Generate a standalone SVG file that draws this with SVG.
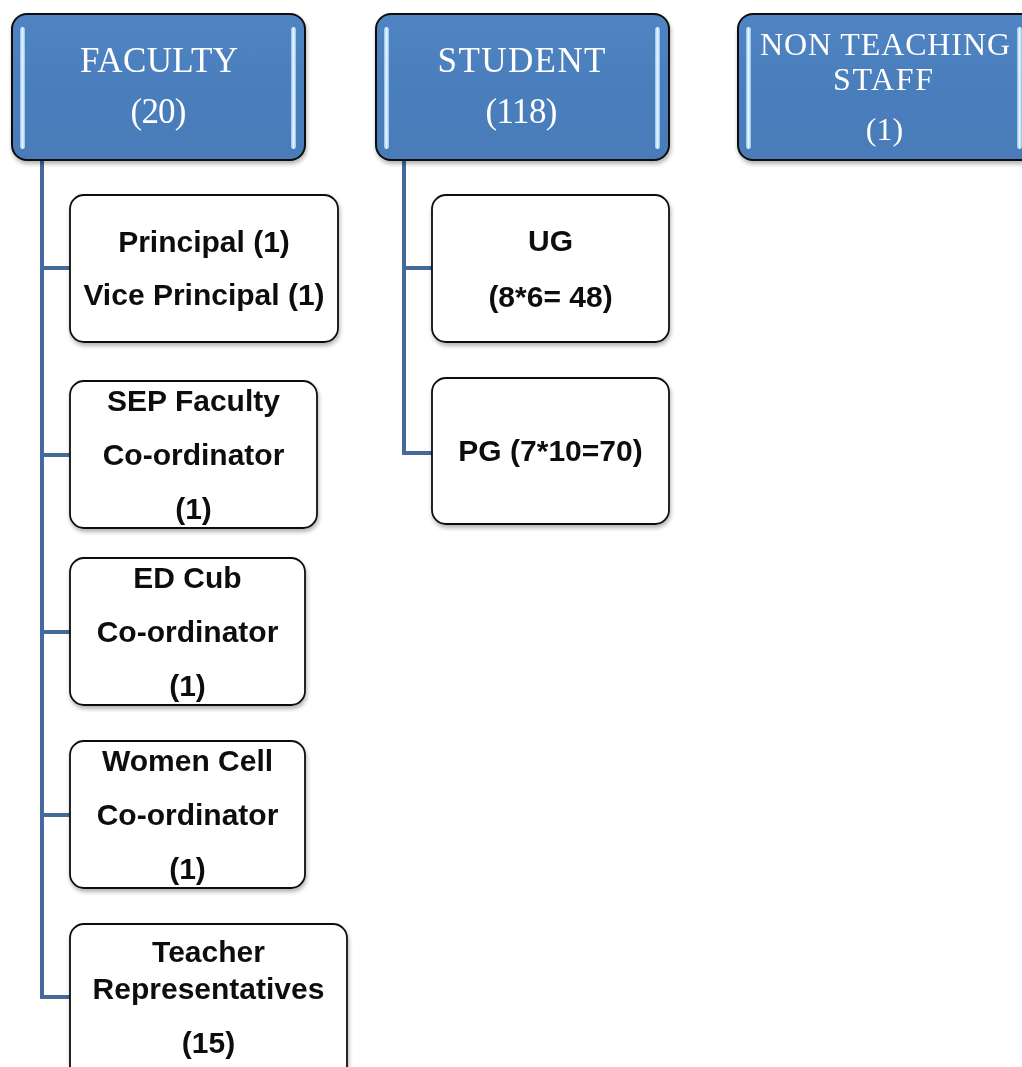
<svg xmlns="http://www.w3.org/2000/svg" width="1022" height="1067" viewBox="0 0 1022 1067">
<defs>
  <linearGradient id="blueFill" x1="0" y1="0" x2="0" y2="1">
    <stop offset="0" stop-color="#5084c2"/>
    <stop offset="0.5" stop-color="#4a7ebc"/>
    <stop offset="1" stop-color="#4a7cb9"/>
  </linearGradient>
  <linearGradient id="bar" x1="0" y1="0" x2="1" y2="0">
    <stop offset="0" stop-color="#8fc0ee"/>
    <stop offset="0.5" stop-color="#eaf7ff"/>
    <stop offset="1" stop-color="#8fc0ee"/>
  </linearGradient>
  <filter id="shadow" x="-5%" y="-5%" width="115%" height="120%">
    <feGaussianBlur in="SourceAlpha" stdDeviation="2"/>
    <feOffset dx="1" dy="3" result="b"/>
    <feComponentTransfer><feFuncA type="linear" slope="0.3"/></feComponentTransfer>
    <feMerge><feMergeNode/><feMergeNode in="SourceGraphic"/></feMerge>
  </filter>
</defs>
<style>
  .head { fill: url(#blueFill); stroke: #111; stroke-width: 2; }
  .bar { fill: url(#bar); }
  .ht { font-family: "Liberation Serif", "DejaVu Serif", serif; font-size: 35px; fill: #ffffff; text-anchor: middle; }
  .hs { font-size: 32px; }
  .child { fill: #ffffff; stroke: #111; stroke-width: 1.8; }
  .ct { font-family: "Liberation Sans", Arial, sans-serif; font-weight: bold; font-size: 30px; fill: #111; text-anchor: middle; }
  .conn { fill: none; stroke: #44699b; stroke-width: 4; stroke-linejoin: miter; }
</style>
<rect width="1022" height="1067" fill="#ffffff"/>

<g id="connectors">
  <path class="conn" d="M42 160 V997 H70"/>
  <path class="conn" d="M42 268 H70"/>
  <path class="conn" d="M42 455 H70"/>
  <path class="conn" d="M42 632 H70"/>
  <path class="conn" d="M42 815 H70"/>
  <path class="conn" d="M404 160 V453 H432"/>
  <path class="conn" d="M404 268 H432"/>
</g>

<g id="faculty" filter="url(#shadow)">
  <rect class="head" x="12" y="14" width="293" height="146" rx="15"/>
  <rect class="bar" x="20" y="27" width="5" height="122" rx="2.5"/>
  <rect class="bar" x="291" y="27" width="5" height="122" rx="2.5"/>
  <text class="ht" x="159" y="72" textLength="158" lengthAdjust="spacing">FACULTY</text>
  <text class="ht" x="158.5" y="123" textLength="56" lengthAdjust="spacing">(20)</text>
</g>

<g id="student" filter="url(#shadow)">
  <rect class="head" x="376" y="14" width="293" height="146" rx="15"/>
  <rect class="bar" x="384" y="27" width="5" height="122" rx="2.5"/>
  <rect class="bar" x="655" y="27" width="5" height="122" rx="2.5"/>
  <text class="ht" x="521.5" y="72" textLength="168" lengthAdjust="spacing">STUDENT</text>
  <text class="ht" x="521.5" y="123" textLength="72" lengthAdjust="spacing">(118)</text>
</g>

<g id="nonteaching" filter="url(#shadow)">
  <rect class="head" x="738" y="14" width="300" height="146" rx="15"/>
  <rect class="bar" x="746" y="27" width="5" height="122" rx="2.5"/>
  <rect class="bar" x="1017" y="27" width="5" height="122" rx="2.5"/>
  <text class="ht hs" x="885" y="55" textLength="250" lengthAdjust="spacing">NON TEACHING</text>
  <text class="ht hs" x="883" y="90" textLength="100" lengthAdjust="spacing">STAFF</text>
  <text class="ht hs" x="884.5" y="140">(1)</text>
</g>

<g id="principal" filter="url(#shadow)">
  <rect class="child" x="70" y="195" width="268" height="147" rx="14"/>
  <text class="ct" x="204" y="252">Principal (1)</text>
  <text class="ct" x="204" y="305">Vice Principal (1)</text>
</g>

<g id="sep" filter="url(#shadow)">
  <rect class="child" x="70" y="381" width="247" height="147" rx="14"/>
  <text class="ct" x="193.5" y="411">SEP Faculty</text>
  <text class="ct" x="193.5" y="465">Co-ordinator</text>
  <text class="ct" x="193.5" y="519">(1)</text>
</g>

<g id="edcub" filter="url(#shadow)">
  <rect class="child" x="70" y="558" width="235" height="147" rx="14"/>
  <text class="ct" x="187.5" y="588">ED Cub</text>
  <text class="ct" x="187.5" y="642">Co-ordinator</text>
  <text class="ct" x="187.5" y="696">(1)</text>
</g>

<g id="women" filter="url(#shadow)">
  <rect class="child" x="70" y="741" width="235" height="147" rx="14"/>
  <text class="ct" x="187.5" y="771">Women Cell</text>
  <text class="ct" x="187.5" y="825">Co-ordinator</text>
  <text class="ct" x="187.5" y="879">(1)</text>
</g>

<g id="teacher" filter="url(#shadow)">
  <rect class="child" x="70" y="924" width="277" height="160" rx="14"/>
  <text class="ct" x="208.5" y="962">Teacher</text>
  <text class="ct" x="208.5" y="999">Representatives</text>
  <text class="ct" x="208.5" y="1053">(15)</text>
</g>

<g id="ug" filter="url(#shadow)">
  <rect class="child" x="432" y="195" width="237" height="147" rx="14"/>
  <text class="ct" x="550.5" y="251">UG</text>
  <text class="ct" x="550.5" y="307">(8*6= 48)</text>
</g>

<g id="pg" filter="url(#shadow)">
  <rect class="child" x="432" y="378" width="237" height="146" rx="14"/>
  <text class="ct" x="550.5" y="461">PG (7*10=70)</text>
</g>
</svg>
